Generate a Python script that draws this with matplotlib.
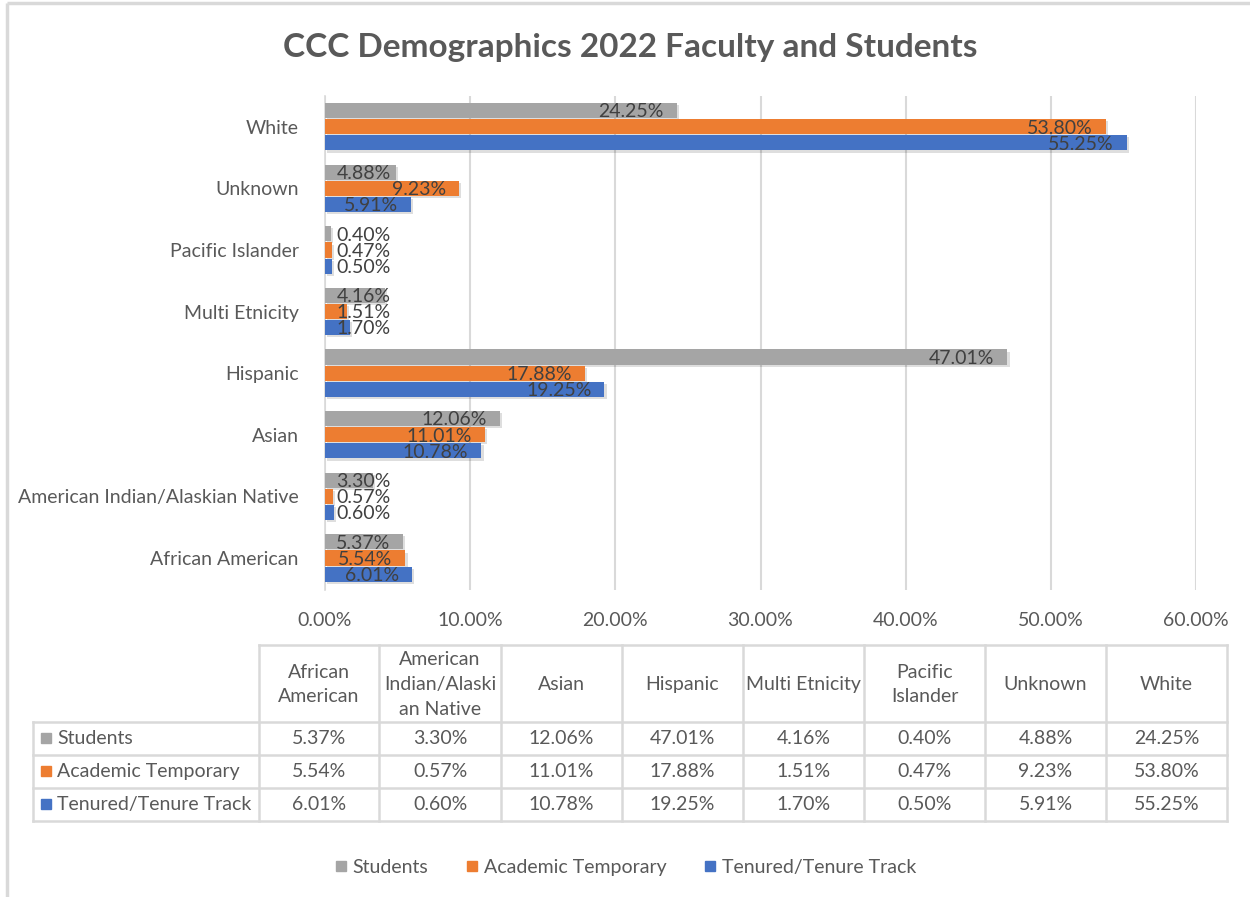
import matplotlib
matplotlib.use("Agg")
import matplotlib.pyplot as plt
from matplotlib.lines import Line2D
import matplotlib.patheffects as pe
import numpy as np

plt.rcParams['font.family'] = ['Lato', 'DejaVu Sans']

# ---------------- data ----------------
categories = ["African American", "American Indian/Alaskian Native", "Asian",
              "Hispanic", "Multi Etnicity", "Pacific Islander", "Unknown", "White"]
table_headers = ["African\nAmerican", "American\nIndian/Alaski\nan Native", "Asian",
                 "Hispanic", "Multi Etnicity", "Pacific\nIslander", "Unknown", "White"]
series_names = ["Students", "Academic Temporary", "Tenured/Tenure Track"]
students = [5.37, 3.30, 12.06, 47.01, 4.16, 0.40, 4.88, 24.25]
academic_temporary = [5.54, 0.57, 11.01, 17.88, 1.51, 0.47, 9.23, 53.80]
tenured = [6.01, 0.60, 10.78, 19.25, 1.70, 0.50, 5.91, 55.25]
x_ticks = [0, 10, 20, 30, 40, 50, 60]

colors = ["#A5A5A5", "#ED7D31", "#4472C4"]
series_vals = [students, academic_temporary, tenured]

W, H = 1250, 897
fig = plt.figure(figsize=(W / 100, H / 100), dpi=100)
FS = 14

# background overlay axes in pixel coordinates (frame, table, legend)
bg = fig.add_axes([0, 0, 1, 1])
bg.set_xlim(0, W)
bg.set_ylim(H, 0)
bg.axis('off')
bg.plot([7, W], [3, 3], color="#D9D9D9", lw=2.5, solid_capstyle='butt')
bg.plot([7, 7], [3, H], color="#D9D9D9", lw=2.5, solid_capstyle='butt')

# ---------------- chart ----------------
ax = fig.add_axes([325 / W, 1 - 590 / H, (1196 - 325) / W, (590 - 96) / H])
y = np.arange(len(categories))
offsets = [0.262, 0.0, -0.262]
bh = 0.245
shadow = [pe.SimplePatchShadow(offset=(1.5, -1.5), shadow_rgbFace='black', alpha=0.13), pe.Normal()]
for vals, col, off, name in zip(series_vals, colors, offsets, series_names):
    bars = ax.barh(y + off, vals, height=bh, color=col, label=name, zorder=3)
    for b in bars:
        b.set_path_effects(shadow)
    for yi, v in zip(y, vals):
        txt = f"{v:.2f}%"
        if v >= 5.3:
            ax.text(v - 0.9, yi + off - 0.02, txt, ha='right', va='center', fontsize=FS,
                    color="#404040", zorder=5)
        else:
            ax.text(0.8, yi + off - 0.02, txt, ha='left', va='center', fontsize=FS,
                    color="#404040", zorder=5)

ax.set_xlim(0, 60)
ax.set_ylim(-0.52, 7.5)
ax.set_xticks(x_ticks)
ax.set_xticklabels([f"{t:.2f}%" for t in x_ticks])
ax.set_yticks(y)
ax.set_yticklabels(categories)
ax.tick_params(axis='both', length=0, labelsize=FS, colors="#595959")
ax.tick_params(axis='x', pad=16)
ax.tick_params(axis='y', pad=19)
ax.grid(axis='x', color="#D9D9D9", lw=1.5, zorder=0)
for s in ['top', 'right', 'bottom']:
    ax.spines[s].set_visible(False)
ax.spines['left'].set_color("#D9D9D9")
ax.spines['left'].set_linewidth(1.2)
ax.set_facecolor('none')

fig.text(630 / W, 1 - 47 / H, "CCC Demographics 2022 Faculty and Students",
         ha='center', va='center', fontsize=24, fontweight='bold', color="#595959")

# ---------------- data table ----------------
gc = "#D9D9D9"
col_x = [259, 379, 501, 622, 743, 864, 985, 1106, 1227]
row_y = [645, 722, 755, 788, 821]
left_x = 33
lw = 1.8
bg.plot([col_x[0], col_x[-1]], [row_y[0], row_y[0]], color=gc, lw=lw)
for ry in row_y[1:]:
    bg.plot([left_x, col_x[-1]], [ry, ry], color=gc, lw=lw)
for cx in col_x:
    bg.plot([cx, cx], [row_y[0], row_y[-1]], color=gc, lw=lw)
bg.plot([left_x, left_x], [row_y[1], row_y[-1]], color=gc, lw=lw)

for i, hdr in enumerate(table_headers):
    cx = (col_x[i] + col_x[i + 1]) / 2
    bg.text(cx, (row_y[0] + row_y[1]) / 2 + 1, hdr, ha='center', va='center',
            fontsize=FS, color="#595959", linespacing=1.55)
for r, (name, vals, col) in enumerate(zip(series_names, series_vals, colors)):
    cy = (row_y[r + 1] + row_y[r + 2]) / 2
    bg.plot([46], [cy], marker='s', markersize=7, color=col, linestyle='none')
    bg.text(57, cy, name, ha='left', va='center', fontsize=FS, color="#595959")
    for i, v in enumerate(vals):
        cx = (col_x[i] + col_x[i + 1]) / 2
        bg.text(cx, cy, f"{v:.2f}%", ha='center', va='center', fontsize=FS,
                color="#595959")

# ---------------- legend ----------------
handles = [Line2D([], [], marker='s', markersize=7, color=c, linestyle='none')
           for c in colors]
fig.legend(handles, series_names, loc='center', bbox_to_anchor=(625 / W, 1 - 867 / H),
           ncol=3, frameon=False, fontsize=FS, labelcolor="#595959",
           handlelength=0.7, handletextpad=0.25, columnspacing=1.9)

fig.savefig("out.png", dpi=100)
